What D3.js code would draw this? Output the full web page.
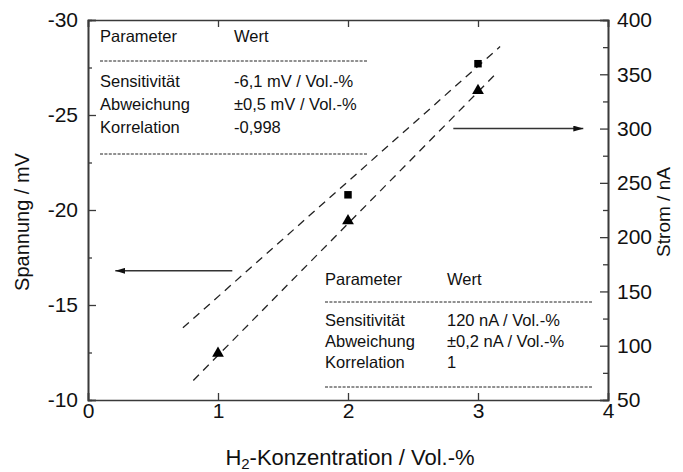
<!DOCTYPE html>
<html>
<head>
<meta charset="utf-8">
<script src="https://cdn.jsdelivr.net/npm/d3@7"></script>
<style>
  body { margin: 0; background: #fff; }
  text { font-family: "Liberation Sans", Arial, sans-serif; fill: #111; }
</style>
</head>
<body>
<svg id="chart"></svg>
<script>
// values
const spannungX = [2, 3];
const spannung = [-20.8, -27.7];          // mV, squares (left axis)
const stromX = [1, 2, 3];
const strom = [93, 215, 335];             // nA, triangles (right axis)
const fitSpannung = [[0.73, -13.8], [3.17, -28.6]];
const fitStrom = [[0.81, 68], [3.15, 352]];
const xTicks = [0, 1, 2, 3, 4];
const leftTicks = [-30, -25, -20, -15, -10];
const rightTicks = [50, 100, 150, 200, 250, 300, 350, 400];
const tableLeft = [["Parameter", "Wert"], ["Sensitivität", "-6,1 mV / Vol.-%"], ["Abweichung", "±0,5 mV / Vol.-%"], ["Korrelation", "-0,998"]];
const tableRight = [["Parameter", "Wert"], ["Sensitivität", "120 nA / Vol.-%"], ["Abweichung", "±0,2 nA / Vol.-%"], ["Korrelation", "1"]];

const margin = { top: 20, right: 75, bottom: 72, left: 88 },
    width = 683 - margin.left - margin.right,
    height = 472 - margin.top - margin.bottom;

const svg = d3.select("#chart")
    .attr("width", width + margin.left + margin.right)
    .attr("height", height + margin.top + margin.bottom)
    .append("g")
    .attr("transform", `translate(${margin.left},${margin.top})`);

const x = d3.scaleLinear().domain([0, 4]).range([0, width]);
const yL = d3.scaleLinear().domain([-10, -30]).range([height, 0]);
const yR = d3.scaleLinear().domain([50, 400]).range([height, 0]);

const axisColor = "#3a3a3a";
const plain = d => String(d);   // hyphen minus like the original

// minor ticks
svg.append("g").call(d3.axisLeft(yL).tickValues(d3.range(-27.5, -10, 5)).tickSize(-4).tickFormat(""));
svg.append("g").attr("transform", `translate(${width},0)`)
    .call(d3.axisRight(yR).tickValues(d3.range(75, 400, 50)).tickSize(-5).tickFormat(""));

// major axes
svg.append("g").attr("class", "ax")
    .call(d3.axisLeft(yL).tickValues(leftTicks).tickSize(-8).tickPadding(10).tickFormat(plain));
svg.append("g").attr("class", "ax")
    .attr("transform", `translate(${width},0)`)
    .call(d3.axisRight(yR).tickValues(rightTicks).tickSize(-8).tickPadding(9).tickFormat(plain));
svg.append("g").attr("class", "ax xax")
    .attr("transform", `translate(0,${height})`)
    .call(d3.axisBottom(x).tickValues(xTicks).tickSize(-7).tickPadding(3).tickFormat(plain));
svg.append("g")
    .call(d3.axisTop(x).tickValues(xTicks).tickSize(-7).tickFormat(""));

svg.selectAll(".domain").attr("stroke", axisColor).attr("stroke-width", 1.6);
svg.selectAll(".tick line").attr("stroke", axisColor).attr("stroke-width", 1.3);
svg.selectAll(".ax .tick text").style("font-size", "21px").attr("fill", "#111");
svg.selectAll(".xax .tick text").attr("dy", "0.71em");

// axis titles
svg.append("text")
    .attr("transform", `translate(${-59},${height / 2 + 12}) rotate(-90)`)
    .attr("text-anchor", "middle")
    .style("font-size", "20px")
    .text("Spannung / mV");

svg.append("text")
    .attr("transform", `translate(${width + 62},${height / 2 + 2}) rotate(-90)`)
    .attr("text-anchor", "middle")
    .style("font-size", "19px")
    .text("Strom / nA");

const xt = svg.append("text")
    .attr("x", width / 2 + 2)
    .attr("y", height + 65)
    .attr("text-anchor", "middle")
    .style("font-size", "22px");
xt.append("tspan").text("H");
xt.append("tspan").attr("dy", 4).style("font-size", "15px").text("2");
xt.append("tspan").attr("dy", -4).text("-Konzentration / Vol.-%");

// fit lines
const lineL = d3.line().x(d => x(d[0])).y(d => yL(d[1]));
const lineR = d3.line().x(d => x(d[0])).y(d => yR(d[1]));

svg.append("path").datum(fitSpannung)
    .attr("d", lineL).attr("fill", "none")
    .attr("stroke", "#222").attr("stroke-width", 1.3).attr("stroke-dasharray", "8,6");
svg.append("path").datum(fitStrom)
    .attr("d", lineR).attr("fill", "none")
    .attr("stroke", "#222").attr("stroke-width", 1.3).attr("stroke-dasharray", "8,6");

// points
svg.append("g").selectAll("path")
    .data(spannungX.map((d, i) => [d, spannung[i]]))
    .join("path")
    .attr("transform", d => `translate(${x(d[0])},${yL(d[1])})`)
    .attr("d", d3.symbol(d3.symbolSquare, 56))
    .attr("fill", "#000");

svg.append("g").selectAll("path")
    .data(stromX.map((d, i) => [d, strom[i]]))
    .join("path")
    .attr("transform", d => `translate(${x(d[0])},${yR(d[1])})`)
    .attr("d", d3.symbol(d3.symbolTriangle, 60))
    .attr("fill", "#000");

// arrows
const defs = d3.select("#chart").append("defs");
defs.append("marker")
    .attr("id", "head")
    .attr("viewBox", "0 0 10 6")
    .attr("refX", 10).attr("refY", 3)
    .attr("markerWidth", 10).attr("markerHeight", 6)
    .attr("markerUnits", "userSpaceOnUse")
    .attr("orient", "auto")
    .append("path").attr("d", "M0,0L10,3L0,6Z").attr("fill", "#111");

svg.append("line")
    .attr("x1", x(1.11)).attr("x2", x(0.21))
    .attr("y1", yL(-16.8)).attr("y2", yL(-16.8))
    .attr("stroke", "#333").attr("stroke-width", 1.5)
    .attr("marker-end", "url(#head)");
svg.append("line")
    .attr("x1", x(2.81)).attr("x2", x(3.81))
    .attr("y1", yR(300)).attr("y2", yR(300))
    .attr("stroke", "#333").attr("stroke-width", 1.5)
    .attr("marker-end", "url(#head)");

// parameter tables
function table(rows, left, top, valueX, lineW, sp) {
    const g = svg.append("g").attr("transform", `translate(${left},${top})`);
    const dashed = y => g.append("line").attr("x1", 0).attr("x2", lineW).attr("y1", y).attr("y2", y)
        .attr("stroke", "#222").attr("stroke-width", 1).attr("stroke-dasharray", "3,1.4");
    rows.forEach((r, i) => {
        const y = i === 0 ? 0 : sp.first + (i - 1) * sp.row;
        g.append("text").attr("x", 0).attr("y", y).style("font-size", "16.5px").text(r[0]);
        g.append("text").attr("x", valueX).attr("y", y).style("font-size", "16.5px").text(r[1]);
    });
    dashed(sp.line1);
    dashed(sp.first + 2 * sp.row + sp.line2);
}

table(tableLeft, 12, 22, 134, 267, { first: 45, row: 23, line1: 19, line2: 21 });
table(tableRight, 237, 265, 122, 268, { first: 41, row: 21, line1: 17, line2: 19 });
</script>
</body>
</html>
